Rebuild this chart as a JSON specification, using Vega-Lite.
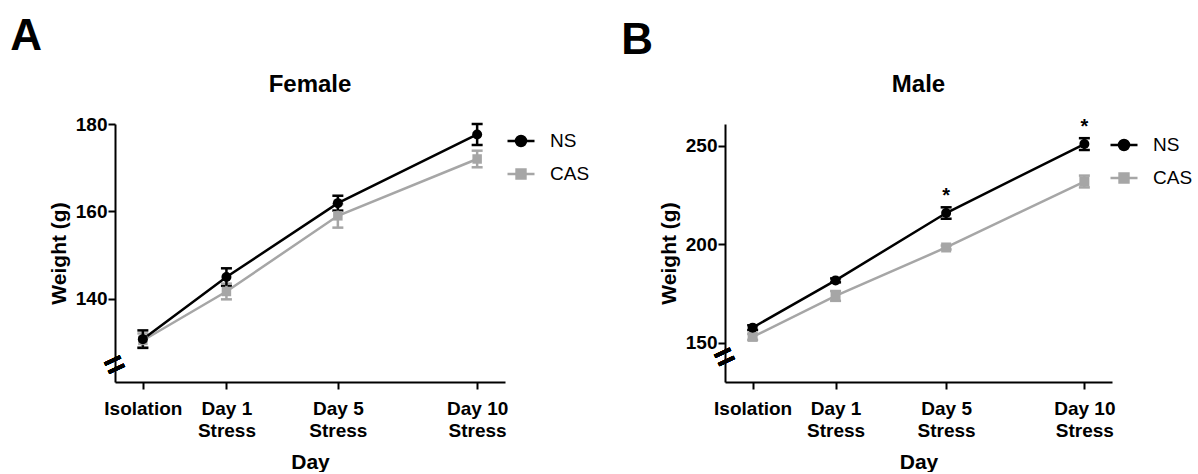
{
  "$schema": "https://vega.github.io/schema/vega-lite/v6.json",
  "padding": {"left": 10, "top": 15, "right": 0, "bottom": 0},
  "background": "white",
  "datasets": {
    "female": [
      {"Day": -2, "Group": "CAS", "Weight": 130.5, "SEM": 1.6, "sig": ""},
      {"Day": 1, "Group": "CAS", "Weight": 141.7, "SEM": 1.8, "sig": ""},
      {"Day": 5, "Group": "CAS", "Weight": 159.0, "SEM": 2.7, "sig": ""},
      {"Day": 10, "Group": "CAS", "Weight": 172.0, "SEM": 1.9, "sig": ""},
      {"Day": -2, "Group": "NS", "Weight": 130.8, "SEM": 2.0, "sig": ""},
      {"Day": 1, "Group": "NS", "Weight": 145.0, "SEM": 2.0, "sig": ""},
      {"Day": 5, "Group": "NS", "Weight": 161.9, "SEM": 1.7, "sig": ""},
      {"Day": 10, "Group": "NS", "Weight": 177.6, "SEM": 2.4, "sig": ""}
    ],
    "male": [
      {"Day": -2, "Group": "CAS", "Weight": 152.9, "SEM": 1.5, "sig": ""},
      {"Day": 1, "Group": "CAS", "Weight": 173.7, "SEM": 2.5, "sig": ""},
      {"Day": 5, "Group": "CAS", "Weight": 198.3, "SEM": 1.0, "sig": ""},
      {"Day": 10, "Group": "CAS", "Weight": 231.8, "SEM": 3.0, "sig": ""},
      {"Day": -2, "Group": "NS", "Weight": 157.6, "SEM": 1.2, "sig": ""},
      {"Day": 1, "Group": "NS", "Weight": 181.6, "SEM": 1.0, "sig": ""},
      {"Day": 5, "Group": "NS", "Weight": 215.8, "SEM": 2.9, "sig": "*"},
      {"Day": 10, "Group": "NS", "Weight": 250.8, "SEM": 3.0, "sig": "*"}
    ]
  },
  "resolve": {"scale": {"color": "independent", "shape": "independent"}, "legend": {"shape": "independent", "color": "independent"}},
  "hconcat": [
    {
      "title": {"text": "A", "anchor": "start", "frame": "bounds", "fontSize": 44, "fontWeight": "bold", "color": "#000", "dx": -38, "offset": 14},
      "resolve": {"scale": {"color": "independent", "shape": "independent"}, "legend": {"shape": "independent", "color": "independent"}},
      "vconcat": [
        {
          "width": 390,
          "height": 258,
          "data": {"name": "female"},
          "title": {"text": "Female", "fontSize": 24, "fontWeight": "bold", "color": "#000", "frame": "group", "anchor": "middle", "offset": 18},
          "layer": [
            {
              "mark": {"type": "errorbar", "thickness": 2.5, "opacity": 1, "ticks": {"size": 11}},
              "encoding": {
                "x": {"field": "Day", "type": "quantitative", "title": "Day", "scale": {"domain": [-3, 11], "nice": false, "zero": false}},
                "y": {"field": "Weight", "type": "quantitative", "title": "Weight (g)", "scale": {"domain": [121, 180], "nice": false, "zero": false}},
                "yError": {"field": "SEM"},
                "color": {"field": "Group", "type": "nominal", "scale": {"range": ["#a6a6a6", "#000000"]}, "legend": null}
              }
            },
            {
              "mark": {"type": "line", "strokeWidth": 2.5},
              "encoding": {
                "x": {"field": "Day", "type": "quantitative", "title": "Day",
                  "axis": {"values": [-2, 1, 5, 10], "labelExpr": "datum.value == -2 ? 'Isolation' : ['Day ' + datum.value, 'Stress']", "labelLineHeight": 22, "labelPadding": 10, "titlePadding": 11, "labelFlush": false, "labelOverlap": false}},
                "y": {"field": "Weight", "type": "quantitative", "title": "Weight (g)",
                  "axis": {"values": [140, 160, 180], "labelPadding": 1, "titlePadding": 6}},
                "color": {"field": "Group", "type": "nominal", "legend": null}
              }
            },
            {
              "transform": [{"filter": "datum.Group == 'CAS'"}],
              "mark": {"type": "point", "shape": "square", "filled": true, "size": 90, "opacity": 1},
              "encoding": {
                "x": {"field": "Day", "type": "quantitative"},
                "y": {"field": "Weight", "type": "quantitative"},
                "color": {"field": "Group", "type": "nominal", "legend": null}
              }
            },
            {
              "transform": [{"filter": "datum.Group == 'NS'"}],
              "mark": {"type": "point", "shape": "circle", "filled": true, "size": 100, "opacity": 1},
              "encoding": {
                "x": {"field": "Day", "type": "quantitative"},
                "y": {"field": "Weight", "type": "quantitative"},
                "color": {"field": "Group", "type": "nominal", "legend": null}
              }
            },
            {
              "mark": {"type": "text", "text": "=", "fontSize": 34, "fontWeight": "bold", "angle": -25, "align": "center", "baseline": "middle", "color": "#000"},
              "encoding": {"x": {"datum": -3}, "y": {"datum": 124.7}}
            },
            {
              "mark": {"type": "point", "filled": true, "strokeWidth": 2.5, "opacity": 0,
                "fill": {"expr": "datum.value == 'NS' ? '#000000' : '#a6a6a6'"},
                "stroke": {"expr": "datum.value == 'NS' ? '#000000' : '#a6a6a6'"}},
              "encoding": {
                "x": {"field": "Day", "type": "quantitative"},
                "y": {"field": "Weight", "type": "quantitative"},
                "shape": {"field": "Group", "type": "nominal",
                  "scale": {"domain": ["NS", "CAS"], "range": ["M-1,0L1,0M0.37,0A0.37,0.37,0,1,1,-0.37,0A0.37,0.37,0,1,1,0.37,0Z", "M-1,0L1,0M-0.33,-0.33L0.33,-0.33L0.33,0.33L-0.33,0.33Z"]},
                  "legend": {"title": null, "orient": "right", "offset": -1, "padding": 2, "symbolSize": 729, "symbolOpacity": 1, "symbolStrokeWidth": 2.5, "labelFontSize": 19, "labelFontWeight": "normal", "labelColor": "#000", "labelOffset": 14, "rowPadding": 8}}
              }
            }
          ]
        }
      ]
    },
    {
      "title": {"text": "B", "anchor": "start", "frame": "bounds", "fontSize": 44, "fontWeight": "bold", "color": "#000", "dx": -37, "offset": 10},
      "resolve": {"scale": {"color": "independent", "shape": "independent"}, "legend": {"shape": "independent", "color": "independent"}},
      "vconcat": [
        {
          "width": 387,
          "height": 258,
          "data": {"name": "male"},
          "title": {"text": "Male", "fontSize": 24, "fontWeight": "bold", "color": "#000", "frame": "group", "anchor": "middle", "offset": 20},
          "layer": [
            {
              "mark": {"type": "errorbar", "thickness": 2.5, "opacity": 1, "ticks": {"size": 11}},
              "encoding": {
                "x": {"field": "Day", "type": "quantitative", "title": "Day", "scale": {"domain": [-3, 11], "nice": false, "zero": false}},
                "y": {"field": "Weight", "type": "quantitative", "title": "Weight (g)", "scale": {"domain": [130, 261], "nice": false, "zero": false}},
                "yError": {"field": "SEM"},
                "color": {"field": "Group", "type": "nominal", "scale": {"range": ["#a6a6a6", "#000000"]}, "legend": null}
              }
            },
            {
              "mark": {"type": "line", "strokeWidth": 2.5},
              "encoding": {
                "x": {"field": "Day", "type": "quantitative", "title": "Day",
                  "axis": {"values": [-2, 1, 5, 10], "labelExpr": "datum.value == -2 ? 'Isolation' : ['Day ' + datum.value, 'Stress']", "labelLineHeight": 22, "labelPadding": 10, "titlePadding": 11, "labelFlush": false, "labelOverlap": false}},
                "y": {"field": "Weight", "type": "quantitative", "title": "Weight (g)",
                  "axis": {"values": [150, 200, 250], "labelPadding": 1, "titlePadding": 6}},
                "color": {"field": "Group", "type": "nominal", "legend": null}
              }
            },
            {
              "transform": [{"filter": "datum.Group == 'CAS'"}],
              "mark": {"type": "point", "shape": "square", "filled": true, "size": 100, "opacity": 1},
              "encoding": {
                "x": {"field": "Day", "type": "quantitative"},
                "y": {"field": "Weight", "type": "quantitative"},
                "color": {"field": "Group", "type": "nominal", "legend": null}
              }
            },
            {
              "transform": [{"filter": "datum.Group == 'NS'"}],
              "mark": {"type": "point", "shape": "circle", "filled": true, "size": 100, "opacity": 1},
              "encoding": {
                "x": {"field": "Day", "type": "quantitative"},
                "y": {"field": "Weight", "type": "quantitative"},
                "color": {"field": "Group", "type": "nominal", "legend": null}
              }
            },
            {
              "mark": {"type": "text", "fontSize": 20, "fontWeight": "bold", "align": "center", "baseline": "alphabetic", "dy": -11, "color": "#000"},
              "encoding": {
                "x": {"field": "Day", "type": "quantitative"},
                "y": {"field": "Weight", "type": "quantitative"},
                "text": {"field": "sig"}
              }
            },
            {
              "mark": {"type": "text", "text": "=", "fontSize": 34, "fontWeight": "bold", "angle": -25, "align": "center", "baseline": "middle", "color": "#000"},
              "encoding": {"x": {"datum": -3}, "y": {"datum": 142.2}}
            },
            {
              "mark": {"type": "point", "filled": true, "strokeWidth": 2.5, "opacity": 0,
                "fill": {"expr": "datum.value == 'NS' ? '#000000' : '#a6a6a6'"},
                "stroke": {"expr": "datum.value == 'NS' ? '#000000' : '#a6a6a6'"}},
              "encoding": {
                "x": {"field": "Day", "type": "quantitative"},
                "y": {"field": "Weight", "type": "quantitative"},
                "shape": {"field": "Group", "type": "nominal",
                  "scale": {"domain": ["NS", "CAS"], "range": ["M-1,0L1,0M0.37,0A0.37,0.37,0,1,1,-0.37,0A0.37,0.37,0,1,1,0.37,0Z", "M-1,0L1,0M-0.33,-0.33L0.33,-0.33L0.33,0.33L-0.33,0.33Z"]},
                  "legend": {"title": null, "orient": "right", "offset": -9, "padding": 6, "symbolSize": 729, "symbolOpacity": 1, "symbolStrokeWidth": 2.5, "labelFontSize": 19, "labelFontWeight": "normal", "labelColor": "#000", "labelOffset": 14, "rowPadding": 8}}
              }
            }
          ]
        }
      ]
    }
  ],
  "spacing": 29,
  "config": {
    "font": "Liberation Sans",
    "view": {"stroke": null},
    "axis": {"grid": false, "domainColor": "#000", "domainWidth": 2, "tickColor": "#000", "tickWidth": 2, "tickSize": 7, "labelColor": "#000", "labelFontSize": 19, "labelFontWeight": "bold", "titleColor": "#000", "titleFontSize": 21, "titleFontWeight": "bold"},
    "legend": {"labelFont": "Liberation Sans"}
  }
}
